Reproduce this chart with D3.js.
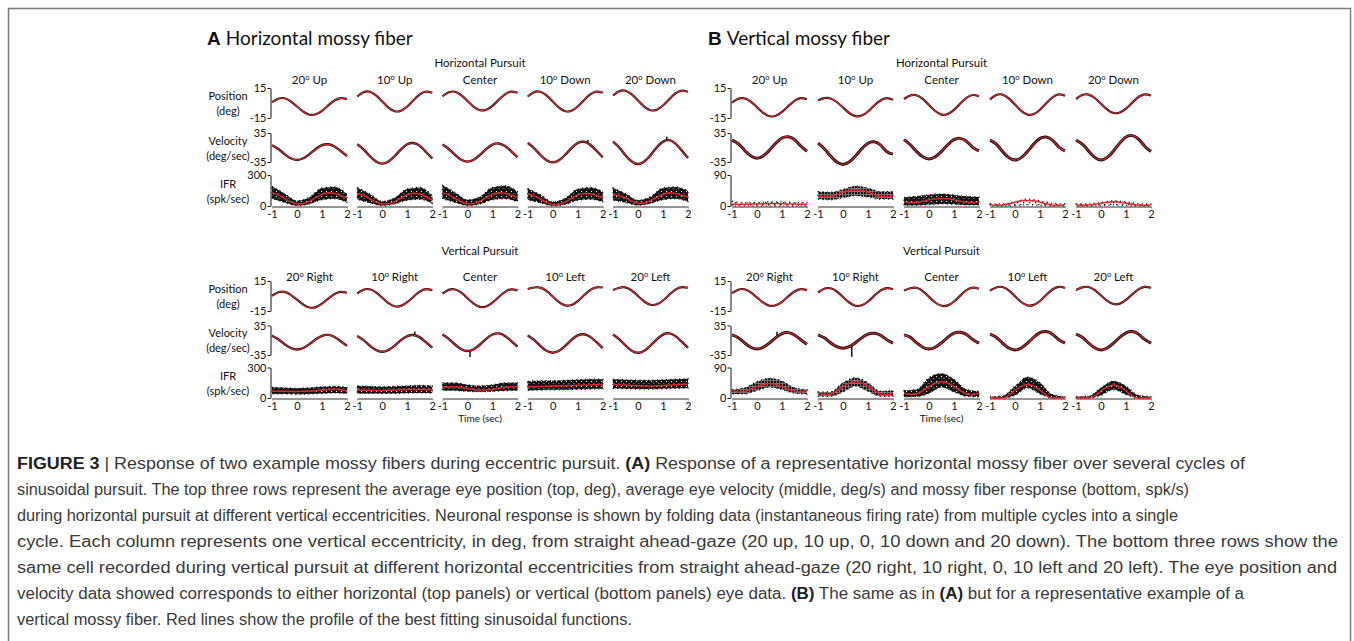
<!DOCTYPE html>
<html><head><meta charset="utf-8">
<script src="https://cdn.jsdelivr.net/npm/d3@7"></script>
<style>
body{margin:0;background:#fff;}
svg{display:block;}
</style>
</head><body>
<svg id="c" width="1354" height="641"></svg>
<script>
// ---------------- DATA ----------------
const timeGrid = [-1,-0.75,-0.5,-0.25,0,0.25,0.5,0.75,1,1.25,1.5,1.75,2];
const bandGrid = [-1,-0.5,0,0.5,1,1.5,2];
const xTicks = [-1,0,1,2];
const posTicks = [-15,15];
const velTicks = [-35,35];
const ifrTicksA = [0,300];
const ifrTicksB = [0,90];
const colNumH = [20,10,null,10,20];
const colWordH = ["Up","Up","Center","Down","Down"];
const colNumV = [20,10,null,10,20];
const colWordV = ["Right","Right","Center","Left","Left"];

// A: horizontal mossy fiber, horizontal pursuit
const posAH = [
 [0.8,4.3,4.7,1.7,-3.5,-8.7,-11.7,-11.3,-7.8,-2.4,2.5,4.9,3.9],
 [6.5,10.7,11.2,7.6,1.5,-4.6,-8.2,-7.7,-3.5,2.8,8.6,11.4,10.2],
 [6.8,10.7,11.2,7.8,2,-3.8,-7.2,-6.7,-2.8,3.2,8.7,11.4,10.3],
 [6.5,10.7,11.2,7.6,1.5,-4.6,-8.2,-7.7,-3.5,2.8,8.6,11.4,10.2],
 [7.5,11.7,12.2,8.6,2.5,-3.6,-7.2,-6.7,-2.5,3.8,9.6,12.4,11.2]
];
const velAH = [
 [5.5,-3.8,-15.9,-26,-30,-26,-15.9,-3.8,5.5,7.8,2.5,-8.5,-20.5],
 [7.8,-4.5,-20.5,-33.8,-39,-33.8,-20.5,-4.5,7.8,10.8,3.8,-10.8,-26.5],
 [7.1,-3.6,-17.7,-29.4,-34,-29.4,-17.7,-3.6,7.1,9.8,3.6,-9.1,-23],
 [10.8,-1.5,-17.5,-30.8,-36,-30.8,-17.5,-1.5,10.8,13.8,6.8,-7.8,-23.5],
 [14.2,0,-18.5,-33.9,-40,-33.9,-18.5,0,14.2,17.7,9.6,-7.2,-25.5]
];
const ifrFitAH = [
 [127,108,74,40,21,23,47,81,113,129,122,100,77],
 [121,102,70,38,19,21,44,77,108,123,116,90,58],
 [127,108,74,40,21,23,47,81,113,129,124,105,85],
 [113,98,67,33,13,16,39,74,107,122,118,100,85],
 [110,100,77,45,27,29,51,84,114,128,122,104,90]
];
const ifrHiAH = [
 [190,120,50,85,175,185,115],
 [180,115,45,80,165,180,100],
 [200,130,60,90,180,195,140],
 [170,110,40,75,165,180,140],
 [175,120,55,90,175,185,145]
];
const ifrLoAH = [
 [70,35,5,20,60,70,35],
 [65,30,5,20,55,65,25],
 [70,35,5,20,60,70,40],
 [60,30,3,15,55,65,40],
 [55,35,8,25,60,70,45]
];

// A: horizontal mossy fiber, vertical pursuit
const posAV = [
 [0.3,3.7,4.1,1.2,-3.7,-8.6,-11.5,-11.1,-7.7,-2.7,2,4.2,3.3],
 [2.6,6.3,6.7,3.6,-1.8,-7.2,-10.3,-9.9,-6.2,-0.7,4.4,6.9,5.9],
 [2.3,6.1,6.5,3.3,-2.2,-7.7,-10.9,-10.5,-6.7,-1,4.2,6.7,5.6],
 [7,8.5,8.4,5.1,-0.5,-6.1,-9.4,-9,-5.1,0.7,6,8.6,8.5],
 [6,8.3,8.7,5.5,0,-5.5,-8.7,-8.3,-4.5,1.2,6.4,8.9,8.2]
];
const velAV = [
 [10.6,2.1,-9.2,-18.4,-22.1,-18.4,-9.2,2.1,10.6,12.7,7.8,-2.3,-13.4],
 [10,0.2,-12.6,-23.2,-27.4,-23.2,-12.6,0.2,10,12.4,6.8,-4.8,-17.4],
 [13.7,3.4,-10.1,-21.2,-25.6,-21.2,-10.1,3.4,13.7,16.2,10.3,-1.9,-15.1],
 [11.5,0.8,-13.3,-25,-29.6,-25,-13.3,0.8,11.5,14.2,8,-4.7,-18.6],
 [13.5,2.2,-12.5,-24.7,-29.5,-24.7,-12.5,2.2,13.5,16.3,9.8,-3.5,-18]
];
const ifrFitAV = [
 [68,67,66,65,65,66,68,72,78,84,87,82,72],
 [78,77,76,75,75,76,78,80,82,84,84,82,80],
 [108,109,110,104,94,84,79,79,86,96,105,110,108],
 [110,111,113,115,117,119,121,123,125,127,129,131,133],
 [133,130,127,124,121,119,119,120,123,127,131,134,136]
];
const ifrHiAV = [
 [105,100,95,100,110,115,105],
 [120,115,110,115,120,125,120],
 [150,150,130,120,130,150,150],
 [165,170,170,175,180,185,185],
 [185,180,175,175,180,185,190]
];
const ifrLoAV = [
 [40,40,38,40,45,50,45],
 [45,45,45,45,48,50,48],
 [75,75,65,62,65,72,75],
 [75,78,80,82,85,88,90],
 [95,92,88,88,90,95,98]
];

// B: vertical mossy fiber, horizontal pursuit
const posBH = [
 [0.3,4.2,4.6,1.3,-4.3,-9.9,-13.2,-12.8,-8.9,-3.1,2.2,4.8,3.7],
 [2.5,4.8,4.5,1.0,-4.5,-10,-13.2,-12.5,-8.5,-2.5,2.5,4.8,3.2],
 [4,7.5,7.8,4.2,-1.9,-8,-11.6,-11.1,-6.9,-0.6,5.2,8,6.8],
 [3.6,7.9,8.4,4.7,-1.6,-7.9,-11.6,-11.1,-6.8,-0.3,5.7,8.6,7.4],
 [4,8,8.4,5,-0.8,-6.6,-10,-9.5,-5.6,0.4,6,8.6,7.5]
];
const velBH = [
 [18,9,-6.5,-20.2,-25.7,-20.2,-6.5,10.2,22.9,26,18.8,3.7,-9],
 [10.4,-3,-20.7,-35.2,-41,-35.2,-20.7,-3,10.4,13.7,6,-9.9,-16],
 [19,6.7,-9.3,-22.6,-27.8,-22.6,-9.3,6.7,19,22,15,0.5,-8],
 [18,8.2,-9.7,-24.5,-30.4,-24.5,-9.7,8.2,22,25.3,17.5,1.2,-8],
 [18,8,-8.3,-24,-30.2,-24,-8.3,10.6,25.2,28.7,20.4,3.2,-9.5]
];
const ifrFitBH = [
 [5,5,5,5.5,6,6.5,7,7,6.5,6,5.5,5,5],
 [30,27,28,33,40,45,47,45,40,33,28,27,30],
 [12,10,11,14,18,21,22,21,18,14,11,10,12],
 [4,2,3,6,11,15,16,15,11,6,3,2,4],
 [3.5,2,2.7,5,8,11,12,11,8,5,2.7,2,3.5]
];
const ifrHiBH = [
 [14,10,10,12,12,10,10],
 [42,40,48,58,52,42,42],
 [25,28,33,35,32,28,26],
 [6,6,12,20,15,8,6],
 [6,6,10,15,12,7,6]
];
const ifrLoBH = [
 [0,0,0,0,0,0,0],
 [20,18,24,30,26,20,20],
 [2,2,4,6,5,3,3],
 [0,0,1,4,2,0,0],
 [0,0,1,3,2,0,0]
];

// B: vertical mossy fiber, vertical pursuit
const posBV = [
 [2.8,6.3,6.7,3.7,-1.5,-6.7,-9.7,-9.3,-5.8,-0.4,4.5,6.9,5.9],
 [3.5,7.3,7.7,4.5,-1,-6.5,-9.7,-9.3,-5.5,0.2,5.4,7.9,6.8],
 [5.5,7.8,8.2,4.9,-0.8,-6.5,-9.8,-9.4,-5.5,0.4,5.8,8.4,7.3],
 [5.5,8.5,9,5.6,-0.2,-6,-9.4,-8.9,-5,1,6.5,9.2,8.1],
 [6,8.6,9,5.9,0.5,-4.9,-8,-7.6,-3.9,1.6,6.7,9.2,8.2]
];
const velBV = [
 [12.8,6.2,-6.3,-16.6,-20.7,-16.6,-6.3,6.2,15.8,18.1,12.6,1.3,-9.5],
 [12.8,5.7,-5.8,-15.3,-19.1,-15.3,-5.8,5.7,14.6,16.7,11.7,1.2,-7],
 [12.8,6.9,-5.9,-16.5,-20.7,-16.5,-5.9,6.9,16.7,19.1,13.5,1.9,-7],
 [14.5,7.1,-6.9,-18.5,-23.1,-18.5,-6.9,7.1,17.9,20.5,14.3,1.6,-7],
 [14.5,7,-6.5,-18,-23,-18.5,-7,7,17.5,20.5,14.5,2,-7]
];
const ifrFitBV = [
 [22,18,20,26,34,40,43,40,34,26,20,18,22],
 [15,10,12,22,34,44,48,44,34,22,12,10,15],
 [15,10,12,22,34,44,48,44,34,22,12,10,15],
 [1,0,0,8,23,35,40,35,23,8,0,0,1],
 [0,0,0,6,21,33,38,33,21,6,0,0,0]
];
const ifrHiBV = [
 [25,30,48,58,50,30,25],
 [18,18,45,60,45,20,22],
 [22,25,60,72,55,25,20],
 [4,6,35,62,45,10,4],
 [4,5,30,50,35,8,4]
];
const ifrLoBV = [
 [12,12,22,32,25,14,12],
 [5,5,18,35,20,5,5],
 [3,4,14,32,18,5,3],
 [0,0,8,30,12,0,0],
 [0,0,8,25,10,0,0]
];

// velocity spikes in the black (raw) trace
const spikeGroup = ["AH","AH","AV","AV","BV","BV"];
const spikeCol = [3,4,1,2,1,0];
const spikeT = [1.4,1.15,1.3,0.1,0.35,0.8];
const spikeV = [18,26,21,-40,-39,20];

const captionLines = [
 [["FIGURE 3",1],[" | ",0],["Response of two example mossy fibers during eccentric pursuit. ",0],["(A)",1],[" Response of a representative horizontal mossy fiber over several cycles of",0]],
 [["sinusoidal pursuit. The top three rows represent the average eye position (top, deg), average eye velocity (middle, deg/s) and mossy fiber response (bottom, spk/s)",0]],
 [["during horizontal pursuit at different vertical eccentricities. Neuronal response is shown by folding data (instantaneous firing rate) from multiple cycles into a single",0]],
 [["cycle. Each column represents one vertical eccentricity, in deg, from straight ahead-gaze (20 up, 10 up, 0, 10 down and 20 down). The bottom three rows show the",0]],
 [["same cell recorded during vertical pursuit at different horizontal eccentricities from straight ahead-gaze (20 right, 10 right, 0, 10 left and 20 left). The eye position and",0]],
 [["velocity data showed corresponds to either horizontal (top panels) or vertical (bottom panels) eye data. ",0],["(B)",1],[" The same as in ",0],["(A)",1],[" but for a representative example of a",0]],
 [["vertical mossy fiber. Red lines show the profile of the best fitting sinusoidal functions.",0]]
];

// ---------------- LAYOUT / STYLE ----------------
const FONT = "Lato, 'Open Sans', sans-serif";
const RED = "#e3262b";
const captionWidths = [1228,1172,1161,1321,1320,1227,615];
const rowsTop = {pos:[118,88], vel:[162,133], ifr:[206,175], title:67, colTitle:84};
const rowsBot = {pos:[311,281], vel:[355,325.5], ifr:[398,367.5], title:255, colTitle:281};
const groups = {
 AH:{x0:272, dx:85.25, rows:rowsTop, pos:posAH, vel:velAH, fit:ifrFitAH, hi:ifrHiAH, lo:ifrLoAH, ifrTicks:ifrTicksA, labels:true, title:"Horizontal Pursuit", num:colNumH, word:colWordH, velW:2, band:["dense","dense","dense","dense","dense"]},
 AV:{x0:272, dx:85.25, rows:rowsBot, pos:posAV, vel:velAV, fit:ifrFitAV, hi:ifrHiAV, lo:ifrLoAV, ifrTicks:ifrTicksA, labels:true, title:"Vertical Pursuit", num:colNumV, word:colWordV, velW:2, band:["dense","dense","dense","dense","dense"]},
 BH:{x0:732, dx:86, rows:rowsTop, pos:posBH, vel:velBH, fit:ifrFitBH, hi:ifrHiBH, lo:ifrLoBH, ifrTicks:ifrTicksB, labels:false, title:"Horizontal Pursuit", num:colNumH, word:colWordH, velW:2.6, band:["sparse","medium","dense","sparse","sparse"]},
 BV:{x0:732, dx:86, rows:rowsBot, pos:posBV, vel:velBV, fit:ifrFitBV, hi:ifrHiBV, lo:ifrLoBV, ifrTicks:ifrTicksB, labels:false, title:"Vertical Pursuit", num:colNumV, word:colWordV, velW:2.6, band:["medium","medium","dense","dense","dense"]}
};
const W = 75;

const svg = d3.select("#c");
svg.append("rect").attr("width",1354).attr("height",641).attr("fill","#fff");
const defs = svg.append("defs");
{
 const p = defs.append("pattern").attr("id","dense").attr("width",5).attr("height",5).attr("patternUnits","userSpaceOnUse");
 p.append("rect").attr("width",5).attr("height",5).attr("fill","#141414");
 p.append("rect").attr("x",1).attr("y",1).attr("width",1).attr("height",1).attr("fill","#fff");
 p.append("rect").attr("x",3.5).attr("y",3.2).attr("width",0.8).attr("height",0.8).attr("fill","#ddd");
 const m = defs.append("pattern").attr("id","medium").attr("width",3).attr("height",3).attr("patternUnits","userSpaceOnUse");
 m.append("rect").attr("width",3).attr("height",3).attr("fill","#777");
 m.append("rect").attr("width",2).attr("height",2).attr("fill","#111");
 const s = defs.append("pattern").attr("id","sparse").attr("width",6).attr("height",4).attr("patternUnits","userSpaceOnUse");
 s.append("rect").attr("width",1.5).attr("height",1.5).attr("fill","#111");
 s.append("rect").attr("x",3).attr("y",2).attr("width",1.3).attr("height",1.3).attr("fill","#111");
}

// frame
svg.append("path").attr("d","M8.5,660V8.5H1350.5V660").attr("fill","none").attr("stroke","#7a7a7a").attr("stroke-width",1.5);

// panel titles
function panelTitle(x, letter, txt){
 const t = svg.append("text").attr("x",x).attr("y",45).attr("font-size",19).attr("fill","#111");
 t.append("tspan").attr("font-family","'Liberation Sans', Arial, sans-serif").attr("font-weight","bold").text(letter);
 t.append("tspan").attr("font-family",FONT).attr("dx",5).text(txt);
}
panelTitle(207,"A","Horizontal mossy fiber");
panelTitle(708,"B","Vertical mossy fiber");

function styleAxis(g, domainColor, domainWidth){
 g.attr("font-family",FONT).attr("font-size",11);
 g.select(".domain").attr("stroke",domainColor).attr("stroke-width",domainWidth);
 g.selectAll(".tick line").attr("stroke",domainColor);
 g.selectAll(".tick text").attr("fill","#111");
}

function drawGroup(key){
 const G = groups[key];
 const R = G.rows;
 const ifrMax = G.ifrTicks[1];
 const yPos = d3.scaleLinear().domain([-15,15]).range(R.pos);
 const yVel = d3.scaleLinear().domain([-35,35]).range(R.vel);
 const yIfr = d3.scaleLinear().domain([0,ifrMax]).range(R.ifr);
 const left = G.x0, right = G.x0 + 4*G.dx + W;
 svg.append("text").attr("x",(left+right)/2).attr("y",R.title).attr("text-anchor","middle")
   .attr("font-family",FONT).attr("font-size",11.5).attr("fill","#111").text(G.title);

 for(let c=0;c<5;c++){
  const x = d3.scaleLinear().domain([-1,2]).range([G.x0 + c*G.dx, G.x0 + c*G.dx + W]);
  const cx = G.x0 + c*G.dx + W/2;
  const ct = svg.append("text").attr("x",cx).attr("y",R.colTitle).attr("text-anchor","middle")
    .attr("font-family",FONT).attr("font-size",11.5).attr("fill","#111");
  if(G.num[c]!==null){
   ct.append("tspan").text(G.num[c]);
   ct.append("tspan").attr("font-size",7.5).attr("dy",-4.5).text("o");
   ct.append("tspan").attr("dy",4.5).text("\u00a0" + G.word[c]);
  } else ct.text(G.word[c]);

  const g = svg.append("g");
  const band = d3.area().x((d,i)=>x(bandGrid[i])).y0((d,i)=>yIfr(G.lo[c][i])).y1(d=>yIfr(d)).curve(d3.curveMonotoneX);
  const xa = g.append("g").attr("transform",`translate(0,${R.ifr[0]+0.5})`)
   .call(d3.axisBottom(x).tickValues(xTicks).tickSize(2).tickSizeOuter(0).tickPadding(2).tickFormat(d=>String(d)));
  styleAxis(xa,"#959595",2);
  g.append("path").datum(G.hi[c]).attr("d",band).attr("fill",`url(#${G.band[c]})`)
   .attr("stroke","#111").attr("stroke-width",1.2).attr("stroke-dasharray","1.2,3.2");
  const fitLine = d3.line().x((d,i)=>x(timeGrid[i])).y(d=>yIfr(d)).curve(d3.curveMonotoneX);
  g.append("path").datum(G.fit[c]).attr("d",fitLine).attr("fill","none").attr("stroke",RED).attr("stroke-width",1.5);

  const pl = d3.line().x((d,i)=>x(timeGrid[i])).y(d=>yPos(d)).curve(d3.curveNatural);
  g.append("path").datum(G.pos[c]).attr("d",pl).attr("fill","none").attr("stroke","#111").attr("stroke-width",2.2);
  g.append("path").datum(G.pos[c]).attr("d",pl).attr("fill","none").attr("stroke",RED).attr("stroke-width",1.1);

  const vl = d3.line().x((d,i)=>x(timeGrid[i])).y(d=>yVel(d)).curve(d3.curveNatural);
  g.append("path").datum(G.vel[c]).attr("d",vl).attr("fill","none").attr("stroke","#111").attr("stroke-width",G.velW + 0.4);
  const interp = d3.scaleLinear().domain(timeGrid).range(G.vel[c]);
  spikeGroup.forEach((sg,i)=>{
   if(sg===key && spikeCol[i]===c){
    g.append("line").attr("x1",x(spikeT[i])).attr("x2",x(spikeT[i]))
     .attr("y1",yVel(interp(spikeT[i]))).attr("y2",yVel(spikeV[i])).attr("stroke","#111").attr("stroke-width",1.5);
   }
  });
  g.append("path").datum(G.vel[c]).attr("d",vl).attr("fill","none").attr("stroke",RED).attr("stroke-width",1.1);

  if(c===0){
   const yax = d3.axisLeft;
   const a1 = g.append("g").attr("transform",`translate(${x(-1)-1.5},0)`)
    .call(yax(yPos).tickValues(posTicks).tickSize(3).tickSizeOuter(0).tickPadding(1).tickFormat(d=>String(d)));
   styleAxis(a1,"#111",1);
   const a2 = g.append("g").attr("transform",`translate(${x(-1)-1.5},0)`)
    .call(yax(yVel).tickValues(velTicks).tickSize(3).tickSizeOuter(0).tickPadding(1).tickFormat(d=>String(d)));
   styleAxis(a2,"#111",1);
   const a3 = g.append("g").attr("transform",`translate(${x(-1)-1.5},0)`)
    .call(yax(yIfr).tickValues(G.ifrTicks).tickSize(3).tickSizeOuter(0).tickPadding(1).tickFormat(d=>String(d)));
   styleAxis(a3,"#111",1);
   if(G.labels){
    const lx = 228;
    const rowLab = [["Position",R.pos],["(deg)",R.pos],["Velocity",R.vel],["(deg/sec)",R.vel],["IFR",R.ifr],["(spk/sec)",R.ifr]];
    rowLab.forEach((rl,i)=>{
     const mid = (rl[1][0]+rl[1][1])/2;
     svg.append("text").attr("x",lx).attr("y", mid + (i%2===0 ? -3 : 12)).attr("text-anchor","middle")
      .attr("font-family",FONT).attr("font-size",11).attr("fill","#111").text(rl[0]);
    });
   }
  }
 }
 if(key[1]==="V"){
  svg.append("text").attr("x",(left+right)/2).attr("y",R.ifr[0]+24).attr("text-anchor","middle")
   .attr("font-family",FONT).attr("font-size",10).attr("fill","#111").text("Time (sec)");
 }
}
["AH","AV","BH","BV"].forEach(drawGroup);

// caption
captionLines.forEach((line,i)=>{
 const t = svg.append("text").attr("x",17).attr("y",469 + i*26)
  .attr("font-family","'Liberation Sans Narrow','Liberation Sans',sans-serif")
  .attr("font-size",16).attr("fill","#3a3a3a")
  .attr("textLength",captionWidths[i]).attr("lengthAdjust","spacingAndGlyphs");
 line.forEach(seg=>{
  t.append("tspan").attr("font-weight",seg[1]?"bold":"normal").attr("fill",seg[1]?"#222":"#3a3a3a").text(seg[0]);
 });
});
</script>
</body></html>
